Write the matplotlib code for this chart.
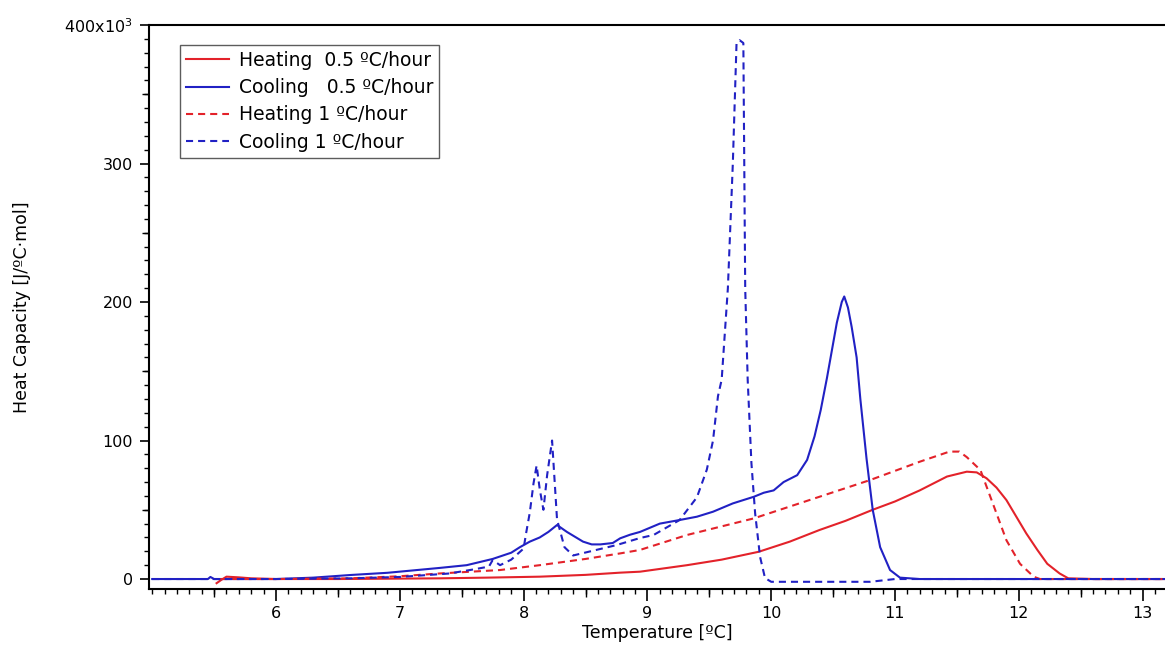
import matplotlib
matplotlib.use("Agg")
import matplotlib.pyplot as plt
from matplotlib.ticker import MultipleLocator, FixedLocator

# heat capacity values in units of 10^3 J/(ºC·mol)
cool05_T = [5.0, 5.45, 5.47, 5.50, 6.0, 6.3, 6.6, 6.9, 7.14, 7.32, 7.54, 7.75,
            7.90, 7.97, 8.05, 8.13, 8.20, 8.27, 8.35, 8.48, 8.55, 8.62, 8.72,
            8.78, 8.86, 8.94, 9.10, 9.26, 9.40, 9.53, 9.69, 9.86, 9.94, 10.02,
            10.10, 10.21, 10.29, 10.35, 10.40, 10.45, 10.49, 10.53, 10.57,
            10.59, 10.62, 10.65, 10.69, 10.72, 10.77, 10.82, 10.88, 10.96,
            11.04, 11.2, 12.0, 13.2]
cool05_C = [0, 0, 1.5, 0, 0, 1, 2.9, 4.5, 6.5, 8, 10, 14.5,
            19, 23, 27, 30, 34, 39, 34, 27, 25, 25, 26,
            29.4, 32, 34, 40, 42.6, 45, 48.6, 54.6, 59.4, 62.3, 64,
            70, 75, 86, 103, 122, 145, 165, 185, 200,
            204, 196, 182, 160, 130, 87, 50, 23, 6.5,
            1, 0, 0, 0]

cool1_T = [5.0, 6.0, 6.6, 7.0, 7.4, 7.6, 7.72, 7.75, 7.81, 7.9, 8.0, 8.02,
           8.05, 8.08, 8.105, 8.13, 8.16, 8.19, 8.23, 8.27, 8.33, 8.40, 8.54,
           8.75, 8.94, 9.05, 9.26, 9.40, 9.48, 9.53, 9.57, 9.60, 9.65, 9.69,
           9.72, 9.745, 9.775, 9.79, 9.81, 9.84, 9.87, 9.91, 9.95, 10.0, 10.8,
           11.0, 13.2]
cool1_C = [0, 0, 0.5, 1.5, 4, 7, 9, 13.7, 10, 14, 22, 33,
           48, 69, 82, 65, 50, 75, 100, 43, 23, 17, 20,
           24.5, 29.6, 31.8, 42.6, 59, 79, 100, 132, 144, 210, 300,
           387, 389, 387, 210, 144, 84, 47.6, 16, 0.7, -2, -2,
           0, 0]

heat05_T = [5.52, 5.56, 5.60, 5.7, 5.8, 6.0, 6.5, 7.0, 7.32, 7.7, 8.13, 8.5,
            8.78, 8.94, 9.32, 9.60, 9.90, 10.15, 10.39, 10.6, 10.82, 11.0,
            11.20, 11.42, 11.58, 11.66, 11.74, 11.82, 11.90, 11.98, 12.06,
            12.15, 12.23, 12.33, 12.40, 12.6, 13.2]
heat05_C = [-3, -0.5, 1.7, 1.2, 0.5, 0, 0, 0.3, 0.5, 1, 1.7, 3,
            4.6, 5.3, 10, 14, 19.7, 27, 35.4, 42, 50, 56,
            64, 74, 77.5, 77, 72.7, 66, 57, 45, 33,
            21, 11, 4, 0.5, 0, 0]

heat1_T = [5.55, 6.0, 6.6, 7.0, 7.32, 7.81, 8.13, 8.5, 8.78, 8.94, 9.32, 9.86,
           10.39, 10.80, 11.20, 11.44, 11.52, 11.58, 11.69, 11.79, 11.90,
           12.01, 12.12, 12.17, 13.2]
heat1_C = [0, 0, 0.5, 2, 4, 6.5, 10, 14.5, 18.5, 21, 31.8, 43.8,
           59.4, 71.5, 84.7, 92, 92, 88, 78.7, 54.6, 28,
           11, 1.7, 0, 0]

labels = ["Heating  0.5 ºC/hour", "Cooling   0.5 ºC/hour",
          "Heating 1 ºC/hour", "Cooling 1 ºC/hour"]
x_ticks = [6, 7, 8, 9, 10, 11, 12, 13]
y_ticks = [0, 100, 200, 300, 400]
y_ticklabels = ["0", "100", "200", "300", "400x10$^3$"]

RED = "#e3222a"
BLUE = "#2121c4"

plt.rcParams['font.family'] = ['DejaVu Sans']

fig = plt.figure(figsize=(11.65, 6.51), dpi=100)
ax = fig.add_axes([149 / 1165, 62 / 651, 1016 / 1165, 564 / 651])

lw = 1.5
dash = (0, (3.4, 2.4))
ax.plot(heat05_T, heat05_C, color=RED, lw=lw, label=labels[0])
ax.plot(cool05_T, cool05_C, color=BLUE, lw=lw, label=labels[1])
ax.plot(heat1_T, heat1_C, color=RED, lw=lw, ls=dash, label=labels[2])
ax.plot(cool1_T, cool1_C, color=BLUE, lw=lw, ls=dash, label=labels[3])

ax.set_xlim(4.974, 13.181)
ax.set_ylim(-7.2, 400)

for s in ['left', 'bottom', 'top']:
    ax.spines[s].set_linewidth(1.5)
ax.spines['right'].set_visible(False)

ax.xaxis.set_major_locator(FixedLocator(x_ticks))
ax.xaxis.set_minor_locator(MultipleLocator(0.1))
ax.set_yticks(y_ticks)
ax.set_yticklabels(y_ticklabels)
ax.yaxis.set_minor_locator(MultipleLocator(10))
ax.tick_params(axis='x', which='major', direction='out', length=8.5, width=1.2,
               pad=4, labelsize=11.5)
ax.tick_params(axis='x', which='minor', direction='out', length=3.8, width=1.0)
ax.tick_params(axis='y', which='major', direction='out', length=6.5, width=1.2,
               pad=5, labelsize=11.5)
ax.tick_params(axis='y', which='minor', direction='out', length=3.5, width=1.0)

# medium ticks at the half steps
half_x = [v + 0.5 for v in range(4, 13)]
secx = ax.secondary_xaxis('bottom')
secx.xaxis.set_major_locator(FixedLocator(half_x))
secx.tick_params(length=6, width=1.0, labelbottom=False)
secx.spines['bottom'].set_visible(False)
half_y = [50, 150, 250, 350]
secy = ax.secondary_yaxis('left')
secy.yaxis.set_major_locator(FixedLocator(half_y))
secy.tick_params(length=5, width=1.0, labelleft=False)
secy.spines['left'].set_visible(False)

ax.set_xlabel("Temperature [ºC]", fontsize=12.5, labelpad=2)
ax.set_ylabel("Heat Capacity [J/ºC·mol]", fontsize=12.5, labelpad=24)

leg = ax.legend(loc='upper left', bbox_to_anchor=(180 / 1165, 1 - 45 / 651),
                bbox_transform=fig.transFigure, borderaxespad=0, fontsize=13.5,
                frameon=True, fancybox=False, handlelength=2.3,
                handletextpad=0.55, labelspacing=0.45, borderpad=0.3)
leg.get_frame().set_edgecolor('#333333')
leg.get_frame().set_linewidth(1.0)

fig.savefig("out.png", dpi=100)
